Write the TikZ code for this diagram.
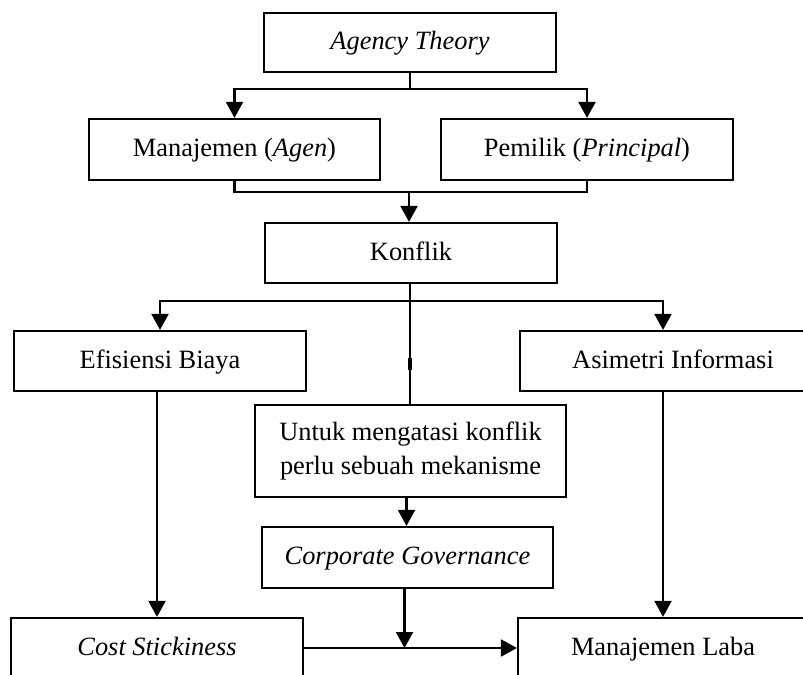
\documentclass[tikz,border=0pt]{standalone}
\usepackage{fontspec}
\setmainfont{Liberation Serif}
\usetikzlibrary{arrows.meta,calc}
\tikzset{
  box/.style={draw,line width=2.2bp,inner sep=0pt,align=center,font=\fontsize{26.5}{34}\selectfont},
  one/.style={text height=19bp,text depth=5bp},
  conn/.style={line width=2.2bp},
  arr/.style={line width=2.2bp,-{Triangle[width=17bp,length=16bp]}},
}
\begin{document}
\begin{tikzpicture}[x=1bp,y=-1bp]
\useasboundingbox (0,0) rectangle (803,675);
\clip (0,0) rectangle (803,675);
\fill[white] (0,0) rectangle (803,675);
% nodes
\node[box,one,minimum width=292bp,minimum height=59bp] (at) at (410,42.5) {\itshape Agency Theory};
\node[box,one,minimum width=291bp,minimum height=61bp] (man) at (234.5,149.5) {Manajemen (\textit{Agen})};
\node[box,one,minimum width=292bp,minimum height=61bp] (pem) at (587,149.5) {Pemilik (\textit{Principal})};
\node[box,one,minimum width=292bp,minimum height=60bp] (kon) at (411,253) {Konflik};
\node[box,one,minimum width=292bp,minimum height=60bp] (efi) at (160,361) {Efisiensi Biaya};
\node[box,one,minimum width=306bp,minimum height=60bp] (asi) at (673,361) {Asimetri Informasi};
\node[box,minimum width=311bp,minimum height=92bp] (unt) at (410.5,451) {Untuk mengatasi konflik\\perlu sebuah mekanisme};
\node[box,one,minimum width=291bp,minimum height=61bp] (cg) at (407.5,557.5) {\itshape Corporate Governance};
\node[box,one,minimum width=292bp,minimum height=60bp] (cs) at (157,648) {\itshape Cost Stickiness};
\node[box,one,minimum width=290bp,minimum height=60bp] (ml) at (663,648) {Manajemen Laba};
% connectors
\coordinate (j1) at ($(at.south)+(0,16)$);
\draw[conn] (at.south) -- (j1);
\draw[arr] (j1) -| (man.north);
\draw[arr] (j1) -| (pem.north);
\coordinate (j2) at ($(kon.north)+(-2,-30)$);
\draw[conn] (man.south) |- (j2) -| (pem.south);
\draw[arr] (j2) -- (j2 |- kon.north);
\coordinate (j3) at ($(kon.south)+(-1,17)$);
\draw[conn] (j3 |- kon.south) -- (j3 |- unt.north);
\draw[arr] (j3) -| (efi.north);
\draw[arr] (j3) -| (ml.north |- asi.north);
\draw[line width=3.4bp] ($(j3 |- kon.south)!0.615!(j3 |- unt.north)$) -- ($(j3 |- kon.south)!0.713!(j3 |- unt.north)$);
\draw[arr] (efi.south -| cs.north) -- (cs.north);
\draw[arr] (asi.south -| ml.north) -- (ml.north);
\draw[arr] ([xshift=-4bp]unt.south) -- ([xshift=-4bp]unt.south |- cg.north);
\draw[arr] (cs.east) -- (ml.west);
\draw[arr] ([xshift=-3bp]cg.south) -- ([xshift=-3bp]cg.south |- cs.east);
\end{tikzpicture}
\end{document}
